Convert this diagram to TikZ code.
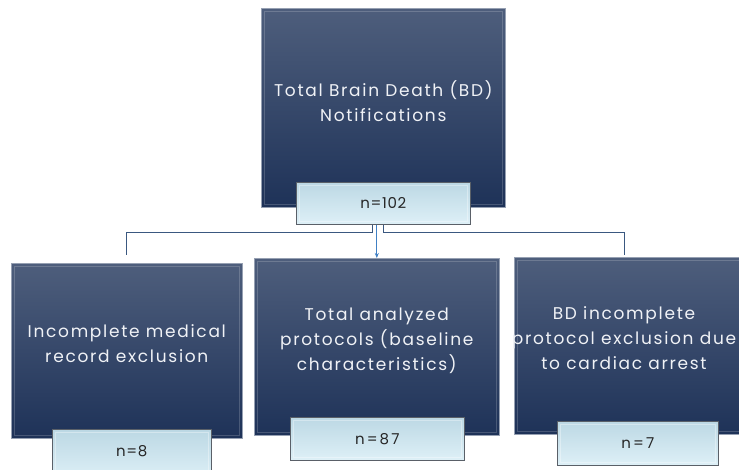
\documentclass[tikz,border=0pt]{standalone}
\usepackage{fontspec}
\newfontfamily\gothic[LetterSpace=10]{Poppins}
\newfontfamily\gothicn[LetterSpace=4]{Poppins}
\newfontfamily\gothicw[LetterSpace=14]{Poppins}
\usetikzlibrary{arrows.meta}
\definecolor{dtop}{RGB}{78,94,124}
\definecolor{dmid}{RGB}{36,60,102}
\definecolor{dbot}{RGB}{30,50,88}
\definecolor{dedge}{RGB}{150,160,178}
\definecolor{ltop}{RGB}{188,216,228}
\definecolor{lbot}{RGB}{222,240,247}
\definecolor{ledge}{RGB}{90,96,104}
\definecolor{conncol}{RGB}{58,88,128}
\definecolor{arrcol}{RGB}{64,128,196}
\definecolor{txtlight}{RGB}{240,242,246}
\begin{document}
\begin{tikzpicture}[x=1pt,y=-1pt,
  bevel/.style={path picture={\draw[white, opacity=#1, line width=1.2pt] ([shift={(3pt,-3pt)}]path picture bounding box.north west) rectangle ([shift={(-3pt,3pt)}]path picture bounding box.south east);}},
  darkbox/.style={draw=dedge, line width=0.6pt, top color=dtop, middle color=dmid, bottom color=dbot, inner sep=0pt, anchor=north west, bevel=0.18},
  lightbox/.style={draw=ledge, line width=0.6pt, top color=ltop, bottom color=lbot, inner sep=0pt, anchor=north west, font=\gothicn\fontsize{15}{18}\selectfont, text=black!85, bevel=0.35},
  boxtext/.style={align=center, text=txtlight, font=\gothic\fontsize{17}{25}\selectfont},
  conn/.style={draw=conncol, line width=0.9pt},
  arr/.style={draw=arrcol, line width=0.9pt, -{Stealth[length=5pt,width=4pt]}}
]
\useasboundingbox (0,0) rectangle (739,470);
\fill[white] (0,0) rectangle (739,470);
\clip (0,0) rectangle (739,470);

% top
\node[darkbox, minimum width=244pt, minimum height=199pt] (top) at (261,8) {};
\node[boxtext] (toptext) at ([yshift=7pt]top.center) {Total Brain Death (BD)\\Notifications};
\node[lightbox, minimum width=174pt, minimum height=42pt] (n102) at (296,182) {n=102};

% left
\node[darkbox, minimum width=231pt, minimum height=175pt] (left) at (11,263) {};
\node[boxtext] (lefttext) at ([yshift=7pt]left.center) {Incomplete medical\\record exclusion};
\node[lightbox, minimum width=159pt, minimum height=51pt, text depth=8pt] (n8) at (52,429) {n=8};

% middle
\node[darkbox, minimum width=245pt, minimum height=177pt] (mid) at (254,258) {};
\node[boxtext] (midtext) at ([yshift=6pt]mid.center) {Total analyzed\\protocols (baseline\\characteristics)};
\node[lightbox, minimum width=174pt, minimum height=43pt, font=\gothicw\fontsize{15}{18}\selectfont] (n87) at (290,417) {n=87};

% right
\node[darkbox, minimum width=236pt, minimum height=177pt] (right) at (514,257) {};
\node[boxtext] (righttext) at (624,338) {BD incomplete\\protocol exclusion due\\to cardiac arrest};
\node[lightbox, minimum width=161pt, minimum height=44pt, font=\gothicw\fontsize{15}{18}\selectfont] (n7) at (557,421) {n=7};

% connectors
\draw[conn] ([xshift=-11pt]n102.south) -- ++(0,8) -| ([yshift=8pt]left.north);
\draw[conn] (n102.south) -- ++(0,8) -| ([xshift=-8pt,yshift=2pt]right.north);
\draw[arr] (mid.north |- n102.south) -- (mid.north);
\end{tikzpicture}
\end{document}
